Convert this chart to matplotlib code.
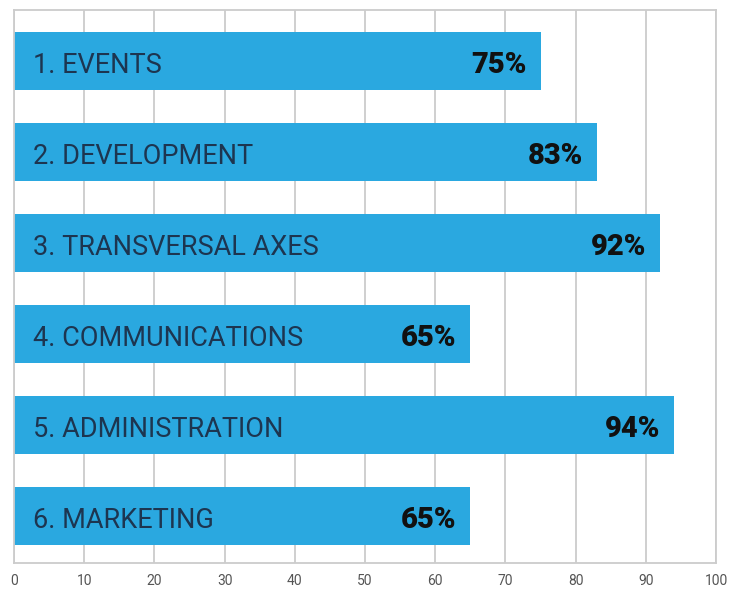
import numpy as np
import matplotlib.pyplot as plt

categories = ["1. EVENTS", "2. DEVELOPMENT", "3. TRANSVERSAL AXES",
              "4. COMMUNICATIONS", "5. ADMINISTRATION", "6. MARKETING"]
values = [75, 83, 92, 65, 94, 65]
ticks = list(range(0, 101, 10))

fig = plt.figure(figsize=(7.31, 5.96), dpi=100)
ax = fig.add_axes([14 / 731, 33 / 596, 702 / 731, 553 / 596])

y = np.arange(len(categories))
ax.barh(y, values, height=0.64, color="#2aa8e0", zorder=2)

for i, (name, v) in enumerate(zip(categories, values)):
    ax.text(2.7, i + 0.05, name, va="center", ha="left", fontsize=19.5,
            family="Roboto", color="#1d3550", zorder=3)
    ax.text(v - 2.0, i + 0.05, f"{v}%", va="center", ha="right", fontsize=21,
            family="Roboto", fontweight="heavy", color="#111111", zorder=3)

ax.set_xlim(0, 100)
ax.set_ylim(5.52, -0.56)
ax.set_xticks(ticks)
ax.set_xticklabels([str(t) for t in ticks], fontsize=10, color="#555555",
                   family="Roboto")
ax.set_yticks([])
ax.tick_params(axis="x", length=0, pad=8)
ax.grid(True, axis="x", color="#cccccc", linewidth=1.3, zorder=0)
for s in ax.spines.values():
    s.set_color("#cccccc")
    s.set_linewidth(1.3)

fig.savefig("out.png", dpi=100)
